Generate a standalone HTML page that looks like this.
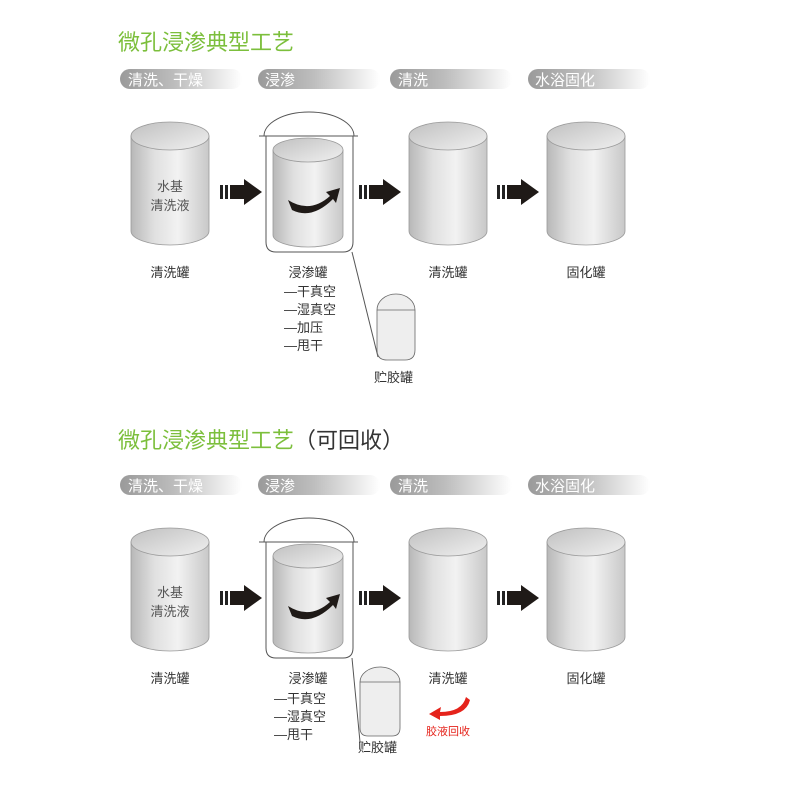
<!DOCTYPE html>
<html><head><meta charset="utf-8"><style>
html,body{margin:0;padding:0;background:#fff;width:800px;height:799px;overflow:hidden}
svg text{font-family:"Liberation Sans","Noto Sans CJK SC",sans-serif}
</style></head><body>
<svg width="800" height="799" viewBox="0 0 800 799" xmlns="http://www.w3.org/2000/svg">
<defs>
<linearGradient id="tab" x1="0" x2="1" y1="0" y2="0">
<stop offset="0" stop-color="#9a9a9a"/><stop offset="0.45" stop-color="#bdbdbd"/><stop offset="1" stop-color="#ffffff"/></linearGradient>
<linearGradient id="body" x1="0" x2="1" y1="0" y2="0">
<stop offset="0" stop-color="#b8b8b8"/><stop offset="0.3" stop-color="#e0e0e0"/><stop offset="0.6" stop-color="#f2f2f2"/><stop offset="1" stop-color="#c8c8c8"/></linearGradient>
<linearGradient id="top" x1="0" x2="1" y1="0" y2="1">
<stop offset="0" stop-color="#c0c0c0"/><stop offset="1" stop-color="#f0f0f0"/></linearGradient>
<g id="cyl">
<path d="M-39 0 L-39 95 A39 14 0 0 0 39 95 L39 0 Z" fill="url(#body)" stroke="#999" stroke-width="0.8"/>
<ellipse cx="0" cy="0" rx="39" ry="14" fill="url(#top)" stroke="#999" stroke-width="0.8"/>
</g>
<g id="icyl">
<path d="M-35 0 L-35 85 A35 12 0 0 0 35 85 L35 0 Z" fill="url(#body)" stroke="#999" stroke-width="0.8"/>
<ellipse cx="0" cy="0" rx="35" ry="12" fill="url(#top)" stroke="#999" stroke-width="0.8"/>
</g>
<g id="arr">
<rect x="0" y="-7" width="3" height="14" fill="#222"/>
<rect x="5" y="-7" width="3" height="14" fill="#222"/>
<path d="M10 -7 L24 -7 L24 -13 L42 0 L24 13 L24 7 L10 7 Z" fill="#1f1a17"/>
</g>
<g id="tabs">
<rect x="120" y="69" width="122" height="20" rx="10" fill="url(#tab)"/>
<rect x="258" y="69" width="122" height="20" rx="10" fill="url(#tab)"/>
<rect x="390" y="69" width="122" height="20" rx="10" fill="url(#tab)"/>
<rect x="528" y="69" width="122" height="20" rx="10" fill="url(#tab)"/>
<g fill="#fff" font-size="15"><text x="128" y="85">清洗、干燥</text><text x="265" y="85">浸渗</text><text x="398" y="85">清洗</text><text x="535" y="85">水浴固化</text></g>
</g>
<g id="common">
<use href="#tabs"/>
<use href="#cyl" x="170" y="136"/>
<use href="#cyl" x="448" y="136"/>
<use href="#cyl" x="586" y="136"/>
<g fill="#555" font-size="13" text-anchor="middle"><text x="170" y="191">水基</text><text x="170" y="210">清洗液</text></g>
<path d="M264 136 A45 24 0 0 1 354 136 M259 136 L358 136 M266 136 L266 242 Q266 252 276 252 L343 252 Q353 252 353 242 L353 136" fill="none" stroke="#555" stroke-width="1"/>
<use href="#icyl" x="308" y="150"/>
<path d="M288 200 Q310 214 330 196 L326 192 L340 188 L336 203 L333 199 Q312 220 292 210 Z" fill="#1f1a17"/>
<use href="#arr" x="220" y="192"/>
<use href="#arr" x="359" y="192"/>
<use href="#arr" x="497" y="192"/>
<g fill="#333" font-size="13" text-anchor="middle"><text x="170" y="277">清洗罐</text><text x="448" y="277">清洗罐</text><text x="586" y="277">固化罐</text><text x="308" y="277">浸渗罐</text></g>
</g>
</defs>

<text x="118" y="50" font-size="22" fill="#7cbf3c">微孔浸渗典型工艺</text>
<use href="#common"/>
<g fill="#333" font-size="13"><text x="284" y="296">—干真空</text><text x="284" y="314">—湿真空</text><text x="284" y="332">—加压</text><text x="284" y="350">—甩干</text>
<text x="374" y="382">贮胶罐</text></g>
<path d="M352 252 L378 357" stroke="#555" stroke-width="1"/>
<path d="M377 310 A19 16 0 0 1 415 310 L415 350 Q415 360 405 360 L387 360 Q377 360 377 350 Z" fill="#eee" stroke="#666" stroke-width="0.8"/>
<line x1="377" y1="310" x2="415" y2="310" stroke="#666" stroke-width="0.8"/>

<text x="118" y="448" font-size="22" fill="#7cbf3c">微孔浸渗典型工艺<tspan fill="#333">（可回收）</tspan></text>
<use href="#common" y="406"/>
<g fill="#333" font-size="13"><text x="274" y="703">—干真空</text><text x="274" y="721">—湿真空</text><text x="274" y="739">—甩干</text>
<text x="358" y="752">贮胶罐</text></g>
<path d="M352 658 L360 742" stroke="#555" stroke-width="1"/>
<path d="M360 682 A20 15 0 0 1 400 682 L400 728 Q400 736 392 736 L368 736 Q360 736 360 728 Z" fill="#eee" stroke="#666" stroke-width="0.8"/>
<line x1="360" y1="682" x2="400" y2="682" stroke="#666" stroke-width="0.8"/>
<path d="M466 697 Q462 712 440 712 L441 707 L429 714 L440 720 L440 716 Q466 716 470 700 Z" fill="#e5231b"/>
<text x="426" y="735" font-size="11" fill="#e5231b">胶液回收</text>
</svg>
</body></html>
